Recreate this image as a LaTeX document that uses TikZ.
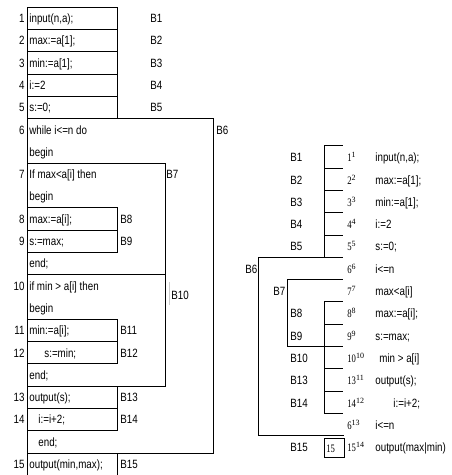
\documentclass[tikz,border=0pt]{standalone}
\usepackage{fontspec}
\setmainfont{Liberation Sans}[FakeStretch=0.815]
\newfontfamily\numfont{Liberation Serif}[FakeStretch=0.76]
\newfontfamily\supfont{Liberation Serif}
\newcommand\stepno[2]{#1\raisebox{4pt}{\supfont\fontsize{8}{9}\selectfont #2}}
\begin{document}
\begin{tikzpicture}[x=1pt, y=-1pt, line width=0.8pt,
    code/.style={font=\fontsize{12}{13}\selectfont, anchor=base west, inner sep=0pt},
    lnum/.style={font=\fontsize{12}{13}\selectfont, anchor=base east, inner sep=0pt},
    blab/.style={font=\fontsize{12}{13}\selectfont, anchor=base west, inner sep=0pt},
    snum/.style={font=\numfont\fontsize{11.4}{12}\selectfont, anchor=base west, inner sep=0pt}]
  \useasboundingbox (0,0) rectangle (451,475);
  % Program listing: left border and blocks
  \draw (27,7) -- (27,475);
  \foreach \r in {0,...,4}
    \draw (27,{7+22.3*\r}) rectangle (117,{7+22.3*(\r+1)});
  \draw (27,118.5) rectangle (213,453);          % B6
  \draw (27,163.1) rectangle (165,274.6);        % B7
  \draw (27,207.7) rectangle (117,230);          % B8
  \draw (27,230) rectangle (117,252.3);          % B9
  \draw (27,274.6) rectangle (165,386.1);        % B10
  \draw (27,319.2) rectangle (117,341.5);        % B11
  \draw (27,341.5) rectangle (117,363.8);        % B12
  \draw (27,386.1) rectangle (117,408.4);        % B13
  \draw (27,408.4) rectangle (117,430.7);        % B14
  \draw (117,453) -- (117,475);                  % B15
  \draw[gray!40, line width=0.5pt] (169.3,281.7) -- (169.3,305);
  % Line numbers
  \foreach \n/\r in {1/0,2/1,3/2,4/3,5/4,6/5,7/7,8/9,9/10,10/12,11/14,12/15,13/17,14/18,15/20}
    \node[lnum] (n\n) at (25,{22.5+22.3*\r}) {\n};
  % Statements
  \foreach \r/\x/\txt in {0/29/{input(n,a);}, 1/29/{max:=a[1];}, 2/29/{min:=a[1];},
      3/29/{i:=2}, 4/29/{s:=0;}, 5/29/{while i<=n do}, 6/29/{begin},
      7/29/{If max<a[i] then}, 8/29/{begin}, 9/29/{max:=a[i];}, 10/29/{s:=max;},
      11/29/{end;}, 12/29/{if min > a[i] then}, 13/29/{begin}, 14/29/{min:=a[i];},
      15/44/{s:=min;}, 16/29/{end;}, 17/29/{output(s);}, 18/38/{i:=i+2;},
      19/38/{end;}, 20/29/{output(min,max);}}
    \node[code] (s\r) at (\x,{22.5+22.3*\r}) {\txt};
  % Block labels
  \foreach \b/\x/\r in {B1/150/0, B2/150/1, B3/150/2, B4/150/3, B5/150/4, B6/216/5,
      B7/166/7, B8/120/9, B9/120/10, B11/120/14, B12/120/15, B13/120/17,
      B14/120/18, B15/120/20}
    \node[blab] (l\b) at (\x,{22.5+22.3*\r}) {\b};
  \node[blab] (lB10) at (171,299.2) {B10};
  % Tree of blocks
  \draw (324,145.7) -- (324,257.2);
  \foreach \j in {0,...,4}
    \draw (324,{145.7+22.3*\j}) -- (342.7,{145.7+22.3*\j});
  \draw (258,257.2) -- (342.7,257.2);
  \draw (258,257.2) -- (258,435.6) -- (344,435.6);            % B6
  \draw (342.7,279.5) -- (287,279.5) -- (287,346.4) -- (342.7,346.4); % B7
  \draw (324,301.8) -- (324,413.3);
  \foreach \j in {7,8,10,11,12}
    \draw (324,{145.7+22.3*\j}) -- (342.7,{145.7+22.3*\j});
  \draw[line width=0.6pt] (324.3,438) rectangle (344,457);
  \node[snum] (b15) at (326,452) {15};
  % Tree labels
  \foreach \b/\x/\k in {B1/290/0, B2/290/1, B3/290/2, B4/290/3, B5/290/4, B6/245/5,
      B7/273/6, B8/290/7, B9/290/8, B10/290/9, B13/290/10, B14/290/11, B15/290/13}
    \node[blab] (t\b) at (\x,{161.7+22.3*\k}) {\b};
  \foreach \k/\a/\s in {0/1/1, 1/2/2, 2/3/3, 3/4/4, 4/5/5, 5/6/6, 6/7/7, 7/8/8,
      8/9/9, 9/10/10, 10/13/11, 11/14/12, 12/6/13, 13/15/14}
    \node[snum] (m\k) at (347,{161.7+22.3*\k}) {\stepno{\a}{\s}};
  \foreach \k/\x/\txt in {0/375/{input(n,a);}, 1/375/{max:=a[1];}, 2/375/{min:=a[1];},
      3/375/{i:=2}, 4/375/{s:=0;}, 5/375/{i<=n}, 6/375/{max<a[i]},
      7/375/{max:=a[i];}, 8/375/{s:=max;}, 9/379/{min > a[i]}, 10/375/{output(s);},
      11/393/{i:=i+2;}, 12/375/{i<=n}, 13/375/{output(max|min)}}
    \node[code] (r\k) at (\x,{161.7+22.3*\k}) {\txt};
\end{tikzpicture}
\end{document}
